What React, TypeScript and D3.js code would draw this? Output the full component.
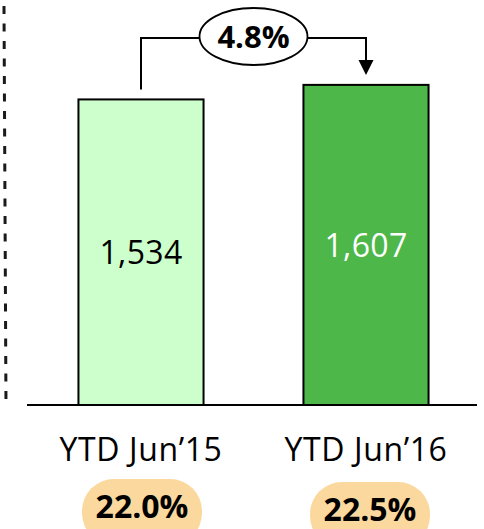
import React from "react";
import * as d3 from "d3";

const categories = ["YTD Jun’15", "YTD Jun’16"];
const values = [1534, 1607];
const shareLabels = ["22.0%", "22.5%"];
const changeLabel = "4.8%";
const barColors = ["#CCFFCC", "#4DB74A"];
const valueColors = ["#000000", "#FFFFFF"];

const W = 484;
const H = 529;
const FONT = "'Open Sans', sans-serif";

export default function App() {
  const x = d3
    .scaleBand<string>()
    .domain(categories)
    .range([28.5, 478.5])
    .paddingInner(0.444)
    .paddingOuter(0.222);
  const y = d3.scaleLinear().domain([0, 2000]).range([405, 6.6]);
  const fmt = d3.format(",");

  const cx = (c: string) => (x(c) as number) + x.bandwidth() / 2;
  const c1 = cx(categories[0]);
  const c2 = cx(categories[1]);
  const top1 = y(values[0]);
  const top2 = y(values[1]);
  const lineY = 38;
  const ex = (c1 + c2) / 2;
  const rx = 54;
  const ry = 28.5;

  return (
    <svg
      width={W}
      height={H}
      style={{ position: "absolute", left: 0, top: 0, background: "#fff" }}
    >
      {/* dashed separator */}
      <line
        x1={4}
        y1={6}
        x2={6}
        y2={408}
        stroke="#1a1a1a"
        strokeWidth={3}
        strokeDasharray="8 9.5"
      />
      {/* bars */}
      {categories.map((c, i) => (
        <rect
          key={c}
          x={x(c)}
          y={y(values[i])}
          width={x.bandwidth()}
          height={y(0) - y(values[i])}
          fill={barColors[i]}
          stroke="#000"
          strokeWidth={2}
        />
      ))}
      {/* baseline */}
      <line x1={27} x2={477} y1={y(0)} y2={y(0)} stroke="#000" strokeWidth={2} />
      {/* value labels */}
      {categories.map((c, i) => (
        <text
          key={"v" + c}
          x={cx(c)}
          y={(y(values[i]) + y(0)) / 2 + 12}
          textAnchor="middle"
          fontFamily={FONT}
          fontSize={32}
          letterSpacing={0.3}
          fill={valueColors[i]}
        >
          {fmt(values[i])}
        </text>
      ))}
      {/* category labels */}
      {categories.map((c) => (
        <text
          key={"c" + c}
          x={cx(c)}
          y={461}
          textAnchor="middle"
          fontFamily={FONT}
          fontSize={32}
          letterSpacing={0.6}
          fill="#000"
        >
          {c}
        </text>
      ))}
      {/* share pills */}
      {categories.map((c, i) => (
        <g key={"p" + c}>
          <rect
            x={cx(c) - 59 + i * 3}
            y={479 + i * 3}
            width={120}
            height={66}
            rx={32}
            ry={32}
            fill="#FBD99E"
          />
          <text
            x={cx(c) + 1 + i * 3}
            y={518 + i * 3}
            textAnchor="middle"
            fontFamily={FONT}
            fontWeight="bold"
            fontSize={32}
            fill="#000"
          >
            {shareLabels[i]}
          </text>
        </g>
      ))}
      {/* change annotation */}
      <path
        d={`M${c1},${top1 - 10} V${lineY} H${ex - rx}`}
        fill="none"
        stroke="#000"
        strokeWidth={2}
      />
      <path
        d={`M${ex + rx},${lineY} H${c2} V${top2 - 24}`}
        fill="none"
        stroke="#000"
        strokeWidth={2}
      />
      <path
        d={`M${c2 - 7.5},${top2 - 25} L${c2 + 7.5},${top2 - 25} L${c2},${top2 - 10} Z`}
        fill="#000"
      />
      <ellipse cx={ex} cy={36.5} rx={rx} ry={ry} fill="#fff" stroke="#000" strokeWidth={1.8} />
      <text
        x={ex}
        y={48}
        textAnchor="middle"
        fontFamily={FONT}
        fontWeight="bold"
        fontSize={31}
        fill="#000"
      >
        {changeLabel}
      </text>
    </svg>
  );
}
